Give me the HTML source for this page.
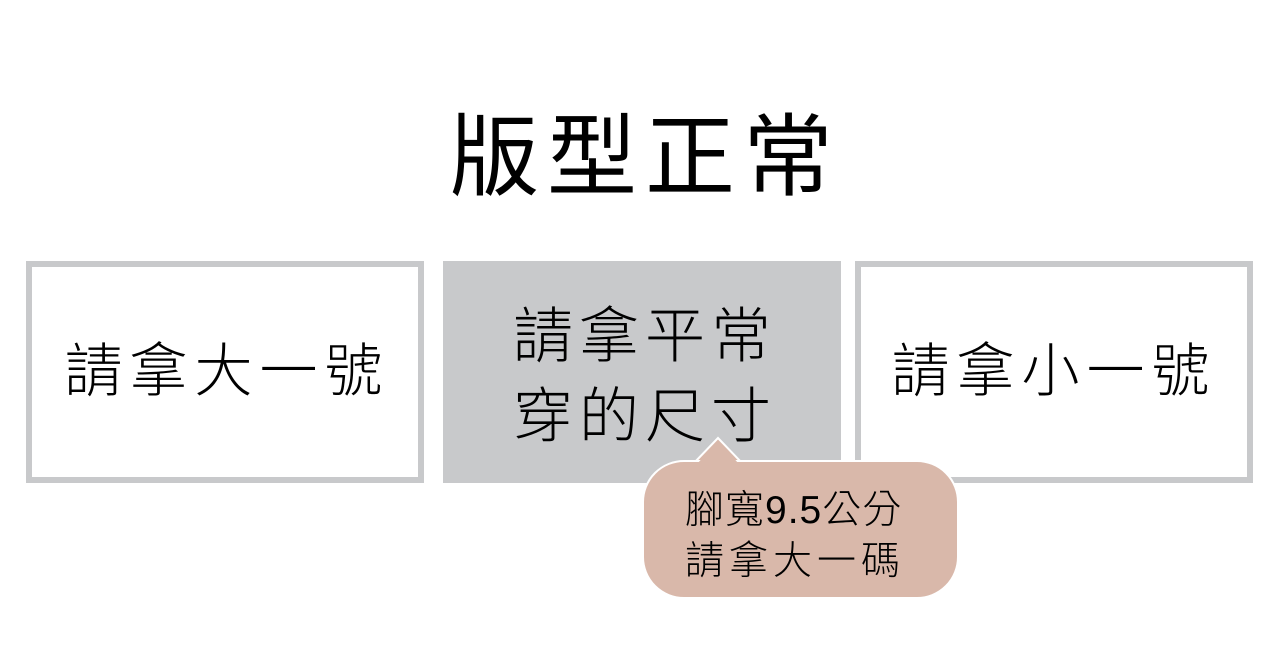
<!DOCTYPE html>
<html><head><meta charset="utf-8"><style>
body{margin:0;width:1280px;height:657px;background:#fff;position:relative;overflow:hidden;font-family:"Liberation Sans","Noto Sans CJK TC",sans-serif;color:#000}
.t{position:absolute;left:0;width:1280px;top:98px;text-align:center;font-size:90px;letter-spacing:8px;line-height:120px;font-weight:400;padding-left:10px;box-sizing:border-box}
.b{position:absolute;top:261px;width:398px;height:222px;box-sizing:border-box;border:6px solid #c8c9cb;display:flex;align-items:center;justify-content:center;text-align:center;font-size:58px;letter-spacing:7px;font-weight:300;line-height:80px}
.bub{position:absolute;left:642px;top:460px;width:317px;height:139px;box-sizing:border-box;background:#d9b8aa;border:2px solid #fff;border-radius:42px;font-size:39px;line-height:51px;font-weight:300;padding:23px 0 0 41px;letter-spacing:5px}
</style></head><body>
<div class="t">版型正常</div>
<div class="b" style="left:26px;padding-left:4px">請拿大一號</div>
<div class="b" style="left:443px;background:#c8c9cb;padding-top:10px;padding-left:6px;font-size:60px;letter-spacing:6px">請拿平常<br>穿的尺寸</div>
<div class="b" style="left:855px">請拿小一號</div>
<svg style="position:absolute;left:0;top:0" width="1280" height="657"><polygon points="694,463 718,438 742,463" fill="#d9b8aa" stroke="#fff" stroke-width="2"/></svg>
<div class="bub"><span style="letter-spacing:1px">腳寬9.5公分</span><br>請拿大一碼</div>
<svg style="position:absolute;left:0;top:0" width="1280" height="657"><polygon points="697,464 718,441 739,464" fill="#d9b8aa"/></svg>
</body></html>
